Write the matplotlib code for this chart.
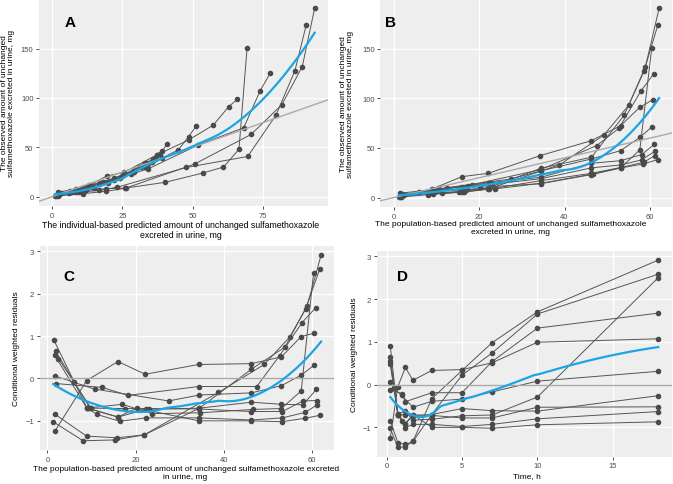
import numpy as np
import matplotlib.pyplot as plt

plt.rcParams['font.family'] = ['Liberation Sans', 'DejaVu Sans']

# Dados por indivíduo (10 indivíduos)
sub_time = [
    [0.25, 0.75, 1.25, 1.75, 3, 5, 7, 10, 18],
    [0.25, 0.75, 1.25, 1.75, 3, 5, 7, 10, 18],
    [0.25, 0.75, 1.25, 1.75, 3, 5, 7, 10, 18],
    [0.25, 1.0, 1.25, 3, 5, 7, 10, 18],
    [0.25, 0.75, 1.25, 1.75, 3, 5, 7, 10, 18],
    [0.25, 0.5, 1.0, 1.75, 3, 5, 7, 10, 18],
    [0.25, 0.75, 1.25, 1.75, 3, 5, 7, 10, 18],
    [0.25, 0.75, 1.25, 1.75, 3, 5, 7, 10, 18],
    [0.25, 0.75, 1.0, 1.25, 1.75, 3, 5, 7, 10, 18],
    [0.75, 1.25, 1.75, 3, 5, 7, 10, 18],
]

# predição populacional (PRED), mg
sub_pred = [
    [1.3, 8.1, 15.4, 22.0, 38.8, 49.2, 55.0, 58.9, 62.1],
    [1.66, 8.9, 15.8, 22.0, 34.5, 46.3, 53.9, 58.6, 61.8],
    [1.9, 9.6, 17.0, 23.7, 34.6, 46.7, 53.1, 57.6, 60.4],
    [1.95, 12.4, 18.3, 34.3, 47.5, 52.7, 57.8, 60.9],
    [1.66, 8.9, 16.0, 22.2, 34.3, 46.3, 53.1, 57.6, 60.6],
    [1.66, 6.0, 10.7, 27.5, 34.5, 46.3, 53.1, 57.6, 60.5],
    [1.5, 9.0, 16.0, 22.4, 34.5, 46.3, 53.1, 58.0, 61.0],
    [2.5, 9.9, 17.5, 23.1, 34.4, 46.3, 53.3, 58.0, 61.1],
    [1.66, 8.9, 11.3, 16.4, 22.4, 34.4, 46.3, 53.3, 58.5, 61.1],
    [9.2, 16.0, 20.3, 34.4, 46.3, 53.3, 58.4, 61.8],
]

# predição individual (IPRED), mg
sub_ipred = [
    [1.0, 10.9, 19.3, 26.0, 50.6, 70.7, 81.6, 88.9, 93.3],
    [1.5, 9.5, 16.7, 23.0, 47.7, 69.5, 79.6, 86.3, 90.3],
    [3.0, 12.0, 19.0, 26.3, 40.1, 53.5, 60.9, 66.4, 69.3],
    [2.5, 12.0, 16.5, 34.0, 52.0, 68.1, 73.9, 77.5],
    [2.0, 11.0, 19.5, 25.5, 37.2, 48.5, 57.3, 62.7, 65.8],
    [2.0, 6.5, 10.5, 22.0, 29.0, 39.0, 44.8, 48.5, 51.2],
    [2.0, 8.5, 14.0, 18.0, 25.0, 33.0, 36.0, 38.5, 40.9],
    [2.5, 8.0, 13.0, 17.0, 24.0, 31.0, 34.0, 36.5, 39.2],
    [2.5, 7.0, 8.5, 11.0, 15.0, 22.0, 29.0, 33.0, 35.5, 37.2],
    [6.0, 10.0, 13.0, 20.0, 28.0, 31.5, 34.0, 36.0],
]

# quantidade observada na urina, mg
sub_obs = [
    [0.5, 3.0, 5.5, 8.5, 33.0, 63.0, 93.0, 131.6, 190.6],
    [1.0, 4.4, 6.4, 9.5, 29.6, 40.7, 82.8, 127.6, 173.7],
    [3.5, 6.5, 8.0, 8.8, 14.5, 23.9, 30.0, 48.0, 151.0],
    [2.0, 9.5, 13.0, 28.0, 52.4, 69.8, 107.0, 125.0],
    [0.5, 8.5, 21.1, 24.5, 42.3, 57.4, 72.5, 91.0, 98.6],
    [2.0, 6.0, 9.0, 18.8, 27.0, 39.0, 47.3, 60.7, 71.5],
    [4.4, 8.0, 11.0, 15.0, 20.5, 34.6, 37.2, 43.3, 53.7],
    [3.0, 7.0, 12.0, 13.5, 19.0, 30.0, 33.0, 38.0, 46.6],
    [3.0, 4.5, 5.0, 5.4, 8.7, 17.0, 24.5, 30.5, 35.6, 42.3],
    [3.5, 5.5, 10.4, 14.0, 23.2, 30.0, 33.9, 38.3],
]

# resíduos ponderados condicionais (CWRES)
sub_cwres = [
    [-1.02, -1.47, -1.45, -1.33, -0.33, 0.33, 0.98, 1.70, 2.91],
    [-0.84, -1.36, -1.40, -1.33, -0.70, 0.22, 0.74, 1.65, 2.58],
    [0.64, -0.69, -0.61, -0.83, -0.81, -0.73, -0.71, -0.29, 2.50],
    [-0.12, -0.21, -0.40, -0.19, -0.19, 0.54, 1.32, 1.67],
    [-1.25, -0.05, 0.40, 0.10, 0.33, 0.35, 0.51, 0.99, 1.07],
    [0.06, -0.09, -0.25, -0.53, -0.39, -0.34, -0.17, 0.08, 0.31],
    [0.90, -0.70, -0.91, -0.73, -0.70, -0.56, -0.61, -0.62, -0.26],
    [0.47, -0.70, -0.71, -0.71, -0.72, -0.78, -0.78, -0.53, -0.52],
    [0.55, -0.69, -0.85, -1.01, -0.93, -0.93, -0.98, -0.93, -0.80, -0.63],
    [-0.70, -0.91, -0.70, -1.00, -1.00, -1.02, -0.94, -0.87],
]

lab_obs = 'The observed amount of unchanged\nsulfamethoxazole excreted in urine, mg'
lab_cw = 'Conditional weighted residuals'


def loess(x, y, xg, span=0.75):
    # regressão local quadrática com pesos tricúbicos (como o loess do R)
    n = len(x)
    q = int(np.floor(n * span))
    res = []
    for x0 in xg:
        d = np.abs(x - x0)
        h = np.sort(d)[q - 1]
        w = np.clip(1 - (d / h) ** 3, 0, None) ** 3
        X = np.column_stack([np.ones(n), x - x0, (x - x0) ** 2])
        sw = np.sqrt(w)
        beta = np.linalg.lstsq(X * sw[:, None], y * sw, rcond=None)[0]
        res.append(beta[0])
    return np.array(res)


def painel(rect, xs, ys, xticks, yticks, letra, lpos, xlabel, ylabel, ref,
           xlab_pos, ylab_x, xlab_size):
    ax = fig.add_axes(rect)
    ax.set_facecolor('#EEEEEE')
    for s in ax.spines.values():
        s.set_visible(False)
    ax.grid(True, color='white', lw=0.9)
    ax.set_axisbelow(True)

    for x, y in zip(xs, ys):
        ax.plot(x, y, color='#555555', lw=0.7, marker='o', ms=3.0,
                mfc='#4a4a4a', mec='#4a4a4a', zorder=2)

    if ref == 'identidade':
        ax.axline((0, 0), slope=1, color='#AAAAAA', lw=1.0, zorder=3)
    else:
        ax.axhline(0, color='#AAAAAA', lw=1.0, zorder=3)

    allx = np.concatenate([np.array(v, float) for v in xs])
    ally = np.concatenate([np.array(v, float) for v in ys])
    xg = np.linspace(allx.min(), allx.max(), 100)
    ax.plot(xg, loess(allx, ally, xg), color='#1BA5E5', lw=1.6, zorder=4)

    ax.set_xticks(xticks)
    ax.set_yticks(yticks)
    ax.tick_params(length=2.5, width=0.6, color='#333333', labelsize=5.5,
                   labelcolor='#4D4D4D', pad=1.5)
    ax.set_xlabel(xlabel, fontsize=xlab_size, color='black', linespacing=1.15)
    ax.set_ylabel(ylabel, fontsize=6.0, color='black', linespacing=1.05)
    ax.xaxis.set_label_coords(xlab_pos[0], xlab_pos[1])
    ax.yaxis.set_label_coords(ylab_x, 0.5)
    ax.text(lpos[0], lpos[1], letra, transform=ax.transAxes, fontsize=11,
            fontweight='bold', ha='center', va='center')
    return ax


fig = plt.figure(figsize=(6.73, 4.85), dpi=100)

painel([0.058, 0.573, 0.429, 0.427], sub_ipred, sub_obs,
       [0, 25, 50, 75], [0, 50, 100, 150], 'A', (0.107, 0.889),
       'The individual-based predicted amount of unchanged sulfamethoxazole\nexcreted in urine, mg',
       lab_obs, 'identidade', (0.49, -0.068), -0.084, 6.3)

painel([0.565, 0.571, 0.434, 0.429], sub_pred, sub_obs,
       [0, 20, 40, 60], [0, 50, 100, 150], 'B', (0.034, 0.889),
       'The population-based predicted amount of unchanged sulfamethoxazole\nexcreted in urine, mg',
       lab_obs, 'identidade', (0.445, -0.063), -0.09, 6.0)

painel([0.059, 0.070, 0.438, 0.421], sub_pred, sub_cwres,
       [0, 20, 40, 60], [-1, 0, 1, 2, 3], 'C', (0.10, 0.853),
       'The population-based predicted amount of unchanged sulfamethoxazole excreted\nin urine, mg',
       lab_cw, 'zero', (0.495, -0.074), -0.068, 6.0)

painel([0.560, 0.056, 0.438, 0.425], sub_time, sub_cwres,
       [0, 5, 10, 15], [-1, 0, 1, 2, 3], 'D', (0.088, 0.879),
       'Time, h', lab_cw, 'zero', (0.51, -0.073), -0.064, 6.0)

plt.savefig('out.png', dpi=100)
